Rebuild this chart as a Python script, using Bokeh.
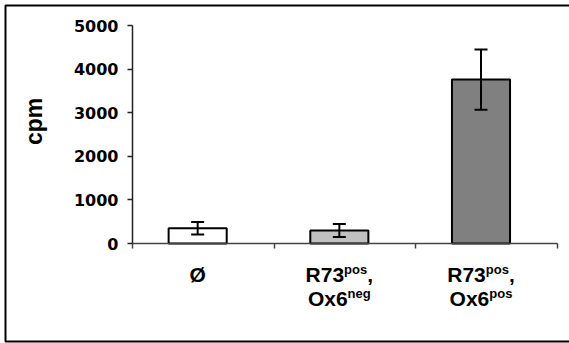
import numpy as np
from bokeh.plotting import figure
from bokeh.core.properties import value
from bokeh.models import ColumnDataSource, Range1d, FixedTicker, Whisker, TeeHead
from bokeh.embed import file_html
from bokeh.resources import INLINE

# data
categories = ["Ø", "R73pos, Ox6neg", "R73pos, Ox6pos"]
cpm = [350, 300, 3760]
cpm_err = [145, 150, 690]
bar_colors = ["#ffffff", "#c0c0c0", "#808080"]
y_ticks = [0, 1000, 2000, 3000, 4000, 5000]
y_max = 5000

# category label pieces per line: (main text, superscript, suffix)
label_lines = [
    [("Ø", "", "")],
    [("R73", "pos", ","), ("Ox6", "neg", "")],
    [("R73", "pos", ","), ("Ox6", "pos", "")],
]

TICK_FONT = "DejaVu Sans"
LABEL_FONT = "Liberation Sans"
MAIN_SIZE = 21
SUP_SIZE = 13

# Liberation Sans Bold advance widths (em)
ADV = {"R": .722, "7": .556, "3": .556, "O": .778, "x": .556, "6": .556,
       "p": .611, "o": .611, "s": .556, "n": .611, "e": .556, "g": .611,
       ",": .278, "Ø": .778}


def text_width(s, size):
    return sum(ADV.get(c, .6) for c in s) * size


# page layout in pixels: the plotting frame fills the page, axes sit inside it
W, H = 569, 343
AX_LEFT, AX_RIGHT, AX_TOP, AX_BASE = 132, 557, 25, 243

n = len(categories)
x_per_px = n / (AX_RIGHT - AX_LEFT)
y_per_px = y_max / (AX_BASE - AX_TOP)
x_range = Range1d(-AX_LEFT * x_per_px, n + (W - AX_RIGHT) * x_per_px)
y_range = Range1d(-(H - AX_BASE) * y_per_px, y_max + AX_TOP * y_per_px)


def px_to_x(px):
    return x_range.start + px * x_per_px


def px_to_y(py):
    return y_range.end - py * y_per_px


xs = np.arange(n) + 0.5          # category centres on a 0..n axis
shift = -0.04                    # bars sit slightly left of centre
bar_x = xs + shift

src = ColumnDataSource(dict(
    x=bar_x, top=cpm, color=bar_colors,
    upper=np.array(cpm) + np.array(cpm_err),
    lower=np.array(cpm) - np.array(cpm_err),
))

p = figure(width=W, height=H, output_backend="svg", toolbar_location=None,
           x_range=x_range, y_range=y_range, min_border=0)
p.outline_line_color = None
p.xgrid.visible = False
p.ygrid.visible = False
p.background_fill_color = "white"
p.border_fill_color = "white"

p.vbar(x="x", top="top", width=0.41, bottom=0, source=src,
       fill_color="color", line_color="black", line_width=2)

p.add_layout(Whisker(base="x", upper="upper", lower="lower", source=src,
                     dimension="height", line_color="black", line_width=2,
                     level="overlay",
                     upper_head=TeeHead(size=13, line_color="black", line_width=2),
                     lower_head=TeeHead(size=13, line_color="black", line_width=2)))

# y axis, anchored at x = 0
ya = p.yaxis[0]
ya.fixed_location = 0
ya.bounds = (0, y_max)
ya.ticker = FixedTicker(ticks=y_ticks)
ya.minor_tick_line_color = None
ya.major_tick_out = 5
ya.major_tick_in = 0
ya.axis_line_width = 1.5
ya.axis_line_color = "#222222"
ya.major_tick_line_width = 1.5
ya.major_tick_line_color = "#222222"
ya.major_label_text_font = TICK_FONT
ya.major_label_text_font_style = "bold"
ya.major_label_text_font_size = "16px"
ya.major_label_text_color = "black"
ya.major_label_standoff = 9

# x axis, anchored at y = 0: ticks at category boundaries
xa = p.xaxis[0]
xa.fixed_location = 0
xa.bounds = (0, n)
xa.ticker = FixedTicker(ticks=list(range(n + 1)))
xa.major_label_overrides = {i: "" for i in range(n + 1)}
xa.minor_tick_line_color = None
xa.major_tick_out = 5
xa.major_tick_in = 0
xa.axis_line_width = 1.5
xa.axis_line_color = "#444444"
xa.major_tick_line_width = 1.5
xa.major_tick_line_color = "#444444"

# category labels with superscripts, laid out piece by piece
pieces = dict(x=[], y=[], text=[], xo=[], yo=[], size=[])
line_gap = 24
first_base = 31
sup_raise = 5
for i, lines in enumerate(label_lines):
    for j, (main, sup, suf) in enumerate(lines):
        wm = text_width(main, MAIN_SIZE)
        ws = text_width(sup, SUP_SIZE)
        wf = text_width(suf, MAIN_SIZE)
        start = -(wm + ws + wf) / 2
        base = first_base + j * line_gap
        for txt, off, yo, sz in ((main, start, base, MAIN_SIZE),
                                 (sup, start + wm, base - sup_raise, SUP_SIZE),
                                 (suf, start + wm + ws, base, MAIN_SIZE)):
            if txt:
                pieces["x"].append(bar_x[i])
                pieces["y"].append(0)
                pieces["text"].append(txt)
                pieces["xo"].append(off)
                pieces["yo"].append(yo)
                pieces["size"].append(f"{sz}px")

p.text(x="x", y="y", text="text", x_offset="xo", y_offset="yo",
       source=ColumnDataSource(pieces), text_font=value(LABEL_FONT),
       text_font_style="bold", text_font_size="size", text_align="left",
       text_baseline="alphabetic", text_color="black")

# y axis title
p.text(x=[0], y=[2800], text=["cpm"], x_offset=-99, angle=np.pi / 2,
       text_font=value(LABEL_FONT), text_font_style="bold",
       text_font_size="23px", text_align="center",
       text_baseline="middle", text_color="black")

# chart border: left, top and bottom edges (the right edge lies off the page)
bx = [W + 20, 5, 5, W + 20]
by = [5, 5, 341, 341]
p.line(x=[px_to_x(v) for v in bx], y=[px_to_y(v) for v in by],
       line_color="black", line_width=2)

open("out.html", "w").write(file_html(p, INLINE))
